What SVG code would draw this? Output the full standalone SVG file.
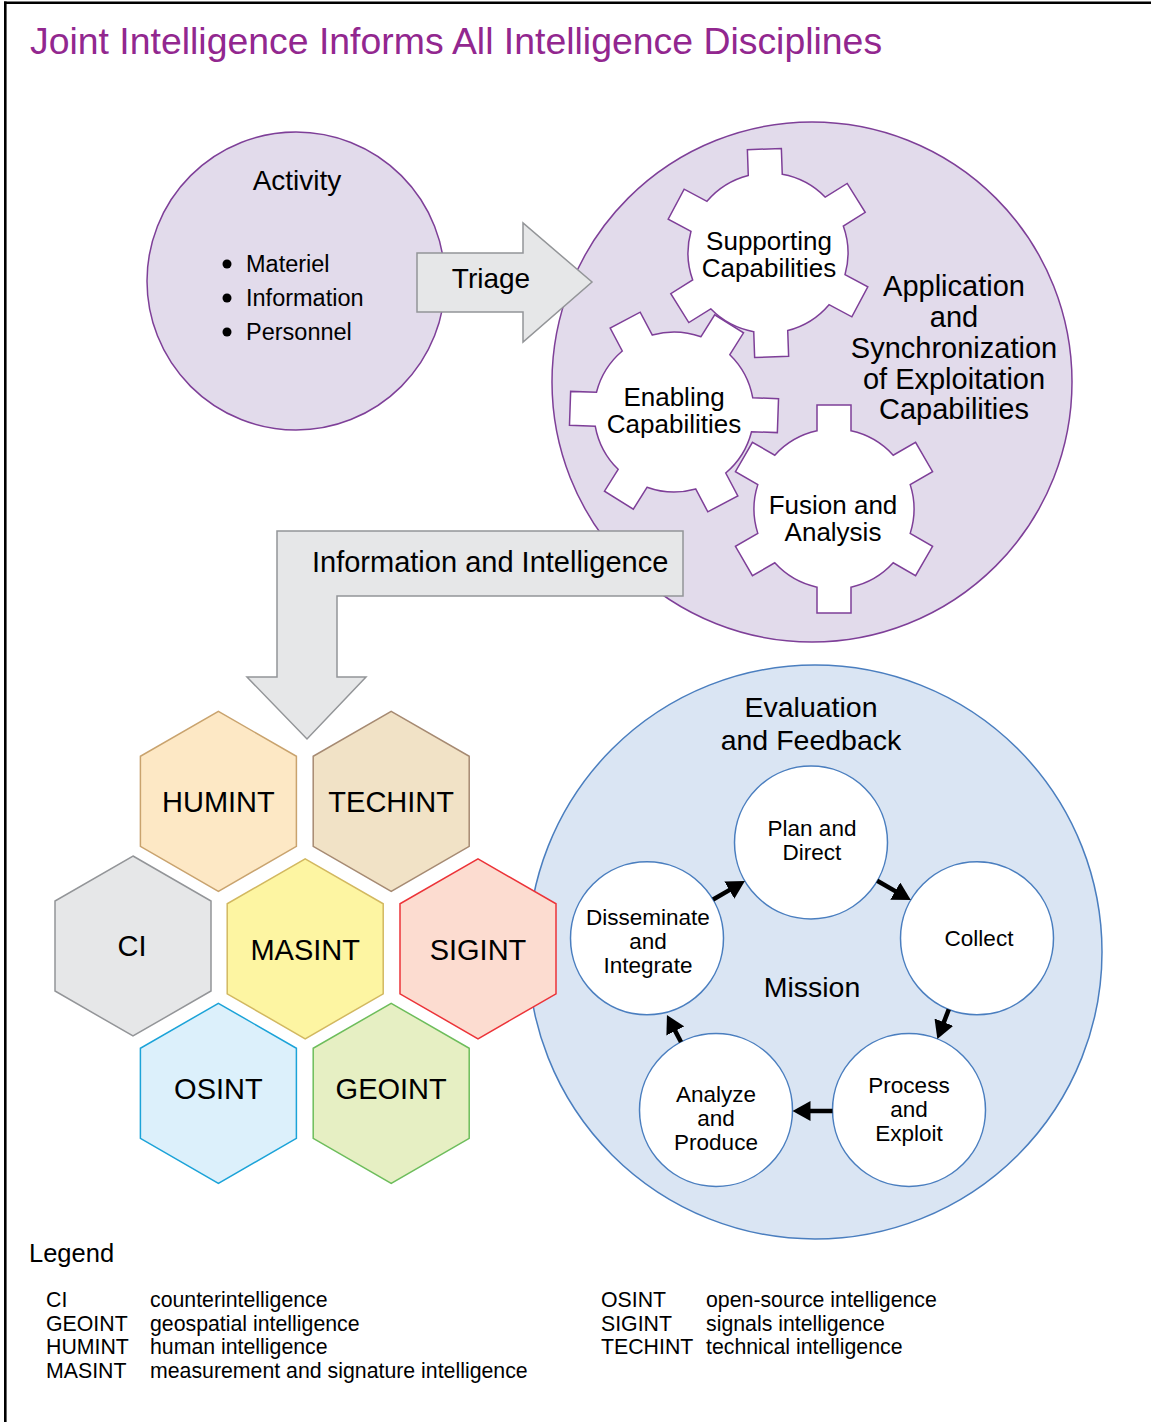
<svg xmlns="http://www.w3.org/2000/svg" xmlns:xlink="http://www.w3.org/1999/xlink" width="1151" height="1422" viewBox="0 0 1151 1422">
  <style>
    text { font-family: "Liberation Sans", Arial, sans-serif; fill: #000; }
    .title { font-size: 37.4px; fill: #92278f; }
    .purple { fill: #e2dbeb; stroke: #7e3f98; stroke-width: 1.5; }
    .gear { fill: #fff; stroke: #7e3f98; stroke-width: 1.5; }
    .grey { fill: #e6e7e8; stroke: #939598; stroke-width: 1.5; }
    .mission { fill: #dae5f3; stroke: #4a7ebf; stroke-width: 1.5; }
    .step { fill: #fff; stroke: #4a7ebf; stroke-width: 1.5; }
    .flow { stroke: #000; stroke-width: 4.5; fill: none; marker-end: url(#head); }
    .hex { stroke-width: 1.5; }
    .c { text-anchor: middle; }
    .g26 { font-size: 26px; }
    .g29 { font-size: 29px; }
    .s22 { font-size: 22.5px; }
    .lg { font-size: 21.3px; }
  </style>
  <defs>
    <!-- six-tooth gear outline, centred on the origin, teeth at top and bottom -->
    <path id="gear" d="M -17,-78.17 L -17,-104 L 17,-104 L 17,-78.17 A 80 80 0 0 1 59.20,-53.81 L 81.57,-66.72 L 98.57,-37.28 L 76.20,-24.36 A 80 80 0 0 1 76.20,24.36 L 98.57,37.28 L 81.57,66.72 L 59.20,53.81 A 80 80 0 0 1 17,78.17 L 17,104 L -17,104 L -17,78.17 A 80 80 0 0 1 -59.20,53.81 L -81.57,66.72 L -98.57,37.28 L -76.20,24.36 A 80 80 0 0 1 -76.20,-24.36 L -98.57,-37.28 L -81.57,-66.72 L -59.20,-53.81 A 80 80 0 0 1 -17,-78.17 Z"/>
    <!-- pointy-top hexagon, centred on the origin -->
    <polygon id="hexagon" points="0,-90 78,-45 78,45 0,90 -78,45 -78,-45"/>
    <marker id="head" markerUnits="userSpaceOnUse" markerWidth="19" markerHeight="20" refX="1" refY="10" orient="auto">
      <path d="M0,0 L18,10 L0,20 Z" fill="#000"/>
    </marker>
  </defs>

  <rect x="0" y="0" width="1151" height="1422" fill="#fff"/>
  <!-- frame -->
  <line x1="4" y1="2.8" x2="1151" y2="2.8" stroke="#000" stroke-width="2.6"/>
  <line x1="5.3" y1="1.5" x2="5.3" y2="1422" stroke="#000" stroke-width="2.6"/>

  <text class="title" x="30" y="54">Joint Intelligence Informs All Intelligence Disciplines</text>

  <!-- Activity -->
  <g id="activity">
    <circle class="purple" cx="296" cy="281" r="149"/>
    <text class="c" x="297" y="190" style="font-size:28px">Activity</text>
    <g style="font-size:23.5px">
      <circle cx="227" cy="264" r="4.5"/>
      <text x="246" y="272">Materiel</text>
      <circle cx="227" cy="298" r="4.5"/>
      <text x="246" y="306">Information</text>
      <circle cx="227" cy="332" r="4.5"/>
      <text x="246" y="340">Personnel</text>
    </g>
  </g>

  <!-- Application and Synchronization of Exploitation Capabilities -->
  <g id="application">
    <circle class="purple" cx="812" cy="382" r="260"/>
    <g class="c" style="font-size:29px">
      <text x="954" y="296">Application</text>
      <text x="954" y="327">and</text>
      <text x="954" y="358">Synchronization</text>
      <text x="954" y="389">of Exploitation</text>
      <text x="954" y="419">Capabilities</text>
    </g>
  </g>

  <g id="enabling">
    <use xlink:href="#gear" class="gear" transform="translate(674 412) rotate(32)"/>
    <text class="c g26" x="674" y="406">Enabling</text>
    <text class="c g26" x="674" y="433">Capabilities</text>
  </g>
  <g id="supporting">
    <use xlink:href="#gear" class="gear" transform="translate(768 253) rotate(-2)"/>
    <text class="c g26" x="769" y="250">Supporting</text>
    <text class="c g26" x="769" y="277">Capabilities</text>
  </g>
  <g id="fusion">
    <use xlink:href="#gear" class="gear" transform="translate(834 509)"/>
    <text class="c g26" x="833" y="514">Fusion and</text>
    <text class="c g26" x="833" y="541">Analysis</text>
  </g>

  <!-- Evaluation and Feedback / Mission -->
  <g id="evaluation">
    <circle class="mission" cx="815" cy="952" r="287"/>
    <text class="c" x="811" y="717" style="font-size:28.5px">Evaluation</text>
    <text class="c" x="811" y="750" style="font-size:28.5px">and Feedback</text>
    <text class="c" x="812" y="997" style="font-size:28.5px">Mission</text>
  </g>

  <g id="plan">
    <circle class="step" cx="811" cy="842.5" r="76.5"/>
    <text class="c s22" x="812" y="836">Plan and</text>
    <text class="c s22" x="812" y="859.5">Direct</text>
  </g>
  <g id="collect">
    <circle class="step" cx="977" cy="938.3" r="76.5"/>
    <text class="c s22" x="979" y="946">Collect</text>
  </g>
  <g id="process">
    <circle class="step" cx="909" cy="1110" r="76.5"/>
    <text class="c s22" x="909" y="1093">Process</text>
    <text class="c s22" x="909" y="1117">and</text>
    <text class="c s22" x="909" y="1141">Exploit</text>
  </g>
  <g id="analyze">
    <circle class="step" cx="716" cy="1110" r="76.5"/>
    <text class="c s22" x="716" y="1101.5">Analyze</text>
    <text class="c s22" x="716" y="1125.5">and</text>
    <text class="c s22" x="716" y="1149.5">Produce</text>
  </g>
  <g id="disseminate">
    <circle class="step" cx="647" cy="938.3" r="76.5"/>
    <text class="c s22" x="648" y="925">Disseminate</text>
    <text class="c s22" x="648" y="949">and</text>
    <text class="c s22" x="648" y="972.5">Integrate</text>
  </g>

  <!-- intelligence disciplines -->
  <g id="humint">
    <use xlink:href="#hexagon" class="hex" transform="translate(218.4 801.3)" fill="#fde8c5" stroke="#c9a36e"/>
    <text class="c g29" x="218.4" y="812">HUMINT</text>
  </g>
  <g id="techint">
    <use xlink:href="#hexagon" class="hex" transform="translate(391.2 801.3)" fill="#f1e2c6" stroke="#a68a72"/>
    <text class="c g29" x="391.2" y="812">TECHINT</text>
  </g>
  <g id="ci">
    <use xlink:href="#hexagon" class="hex" transform="translate(133 946)" fill="#e6e7e8" stroke="#939598"/>
    <text class="c g29" x="132" y="956">CI</text>
  </g>
  <g id="masint">
    <use xlink:href="#hexagon" class="hex" transform="translate(305.2 948.8)" fill="#fdf5a2" stroke="#d2b860"/>
    <text class="c g29" x="305.2" y="959.5">MASINT</text>
  </g>
  <g id="sigint">
    <use xlink:href="#hexagon" class="hex" transform="translate(478 948.8)" fill="#fcdcd0" stroke="#ec3338"/>
    <text class="c g29" x="478" y="959.5">SIGINT</text>
  </g>
  <g id="osint">
    <use xlink:href="#hexagon" class="hex" transform="translate(218.4 1093.3)" fill="#dcf0fb" stroke="#1ba3d8"/>
    <text class="c g29" x="218.4" y="1099">OSINT</text>
  </g>
  <g id="geoint">
    <use xlink:href="#hexagon" class="hex" transform="translate(391.2 1093.3)" fill="#e6efc3" stroke="#6dbd5b"/>
    <text class="c g29" x="391.2" y="1099">GEOINT</text>
  </g>

  <!-- connectors -->
  <g id="connectors">
    <g id="triage">
      <path class="grey" d="M 417,253 L 523,253 L 523,223 L 592,282 L 523,342 L 523,312 L 417,312 Z"/>
      <text class="c" x="491" y="288" style="font-size:28px">Triage</text>
    </g>
    <g id="information-and-intelligence">
      <path class="grey" d="M 277,531 L 683,531 L 683,596 L 337,596 L 337,677 L 366,677 L 307,739 L 247,677 L 277,677 Z"/>
      <text x="312" y="572" style="font-size:29px">Information and Intelligence</text>
    </g>
    <line class="flow" x1="713.1" y1="899.5" x2="730.2" y2="889.6"/>
    <line class="flow" x1="877.2" y1="880.7" x2="896.1" y2="891.6"/>
    <line class="flow" x1="948.8" y1="1009.4" x2="943.5" y2="1023.1"/>
    <line class="flow" x1="832.5" y1="1111" x2="809.5" y2="1111"/>
    <line class="flow" x1="681" y1="1042" x2="674.8" y2="1030.1"/>
  </g>

  <!-- legend -->
  <g id="legend">
    <text x="29" y="1262" style="font-size:25.5px">Legend</text>
    <g class="lg">
      <text x="46" y="1307">CI</text>
      <text x="150" y="1307">counterintelligence</text>
      <text x="46" y="1331">GEOINT</text>
      <text x="150" y="1331">geospatial intelligence</text>
      <text x="46" y="1354">HUMINT</text>
      <text x="150" y="1354">human intelligence</text>
      <text x="46" y="1378">MASINT</text>
      <text x="150" y="1378">measurement and signature intelligence</text>
      <text x="601" y="1307">OSINT</text>
      <text x="706" y="1307">open-source intelligence</text>
      <text x="601" y="1331">SIGINT</text>
      <text x="706" y="1331">signals intelligence</text>
      <text x="601" y="1354">TECHINT</text>
      <text x="706" y="1354">technical intelligence</text>
    </g>
  </g>
</svg>
